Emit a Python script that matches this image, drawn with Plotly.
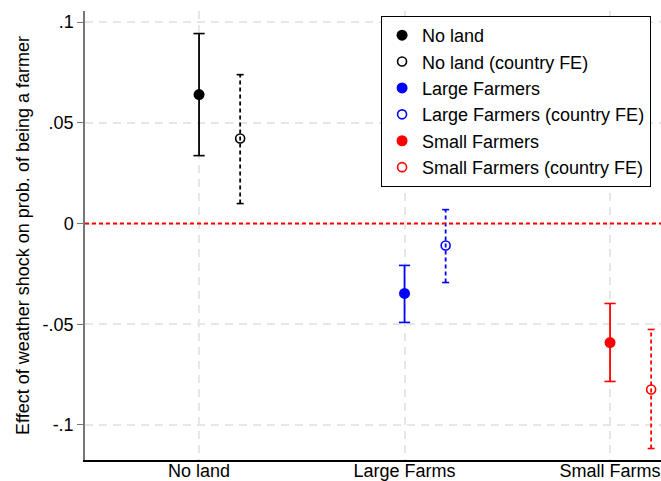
import plotly.graph_objects as go

categories = ["No land", "Large Farms", "Small Farms"]
cat_pos = [1, 2, 3]
fe_offset = 0.2

series_names = ["No land", "No land (country FE)", "Large Farmers",
                "Large Farmers (country FE)", "Small Farmers", "Small Farmers (country FE)"]
series_cat = [0, 0, 1, 1, 2, 2]
series_fe = [False, True, False, True, False, True]
est = [0.064, 0.0422, -0.0347, -0.0109, -0.0591, -0.0824]
ci_lo = [0.0337, 0.0099, -0.0491, -0.0293, -0.0784, -0.1117]
ci_hi = [0.0943, 0.0739, -0.0208, 0.0069, -0.0397, -0.0526]
colors = ["black", "black", "blue", "blue", "red", "red"]

yticks = [0.1, 0.05, 0, -0.05, -0.1]
yticklabels = [".1", ".05", "0", "-.05", "-.1"]

fig = go.Figure()

for i, name in enumerate(series_names):
    x = cat_pos[series_cat[i]] + (fe_offset if series_fe[i] else 0)
    c = colors[i]
    fe = series_fe[i]
    fig.add_trace(go.Scatter(
        x=[x, x], y=[ci_lo[i], ci_hi[i]], mode="lines+markers",
        line=dict(color=c, width=1.8, dash="4px,3px" if fe else "solid"),
        marker=dict(symbol="line-ew", size=5 if fe else 8, line=dict(color=c, width=1.6)),
        showlegend=False, hoverinfo="skip"))
for i, name in enumerate(series_names):
    x = cat_pos[series_cat[i]] + (fe_offset if series_fe[i] else 0)
    c = colors[i]
    if series_fe[i]:
        marker = dict(symbol="circle-open", size=9, color=c, line=dict(color=c, width=1.6))
    else:
        marker = dict(symbol="circle", size=11, color=c)
    fig.add_trace(go.Scatter(x=[x], y=[est[i]], mode="markers", name=name, marker=marker))

fig.add_shape(type="line", xref="paper", x0=0, x1=1, yref="y", y0=0, y1=0,
              line=dict(color="#ff0000", width=1.8, dash="4px,3px"), layer="above")

fig.update_layout(
    width=661, height=481,
    margin=dict(l=85, r=0, t=11, b=21, autoexpand=False),
    paper_bgcolor="white", plot_bgcolor="white",
    font=dict(family="Liberation Sans, Arial, sans-serif", size=18, color="black"),
    legend=dict(x=0.514, y=0.989, xanchor="left", yanchor="top",
                bordercolor="black", borderwidth=1, bgcolor="white",
                font=dict(size=18), itemwidth=30, tracegroupgap=0),
    xaxis=dict(range=[0.445, 3.248], tickvals=cat_pos, ticktext=categories,
               showgrid=True, gridcolor="#e6e6e6", griddash="8px,6px", gridwidth=1.5,
               showline=True, linecolor="black", linewidth=1.5, automargin=False,
               ticks="", zeroline=False, ticklabelstandoff=-6),
    yaxis=dict(range=[-0.1174, 0.1055], tickvals=yticks, ticktext=yticklabels,
               showgrid=True, gridcolor="#e6e6e6", griddash="8px,6px", gridwidth=1.5,
               showline=True, linecolor="#777777", linewidth=1.5, automargin=False,
               ticks="outside", ticklen=6, tickcolor="#777777", zeroline=False,
               title=dict(text="Effect of weather shock on prob. of being a farmer",
                          font=dict(size=18), standoff=8)),
)

fig.write_html("out.html")
